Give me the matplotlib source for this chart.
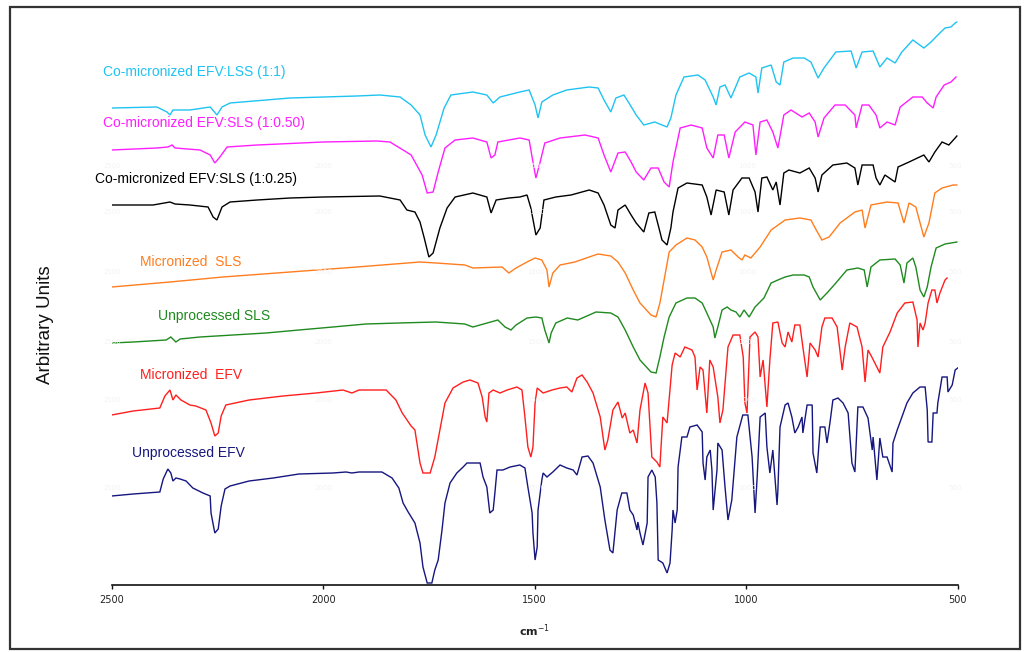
import matplotlib
matplotlib.use("Agg")
import matplotlib.pyplot as plt
from matplotlib.patches import Rectangle

# ---------------- data (wavenumber cm-1, arbitrary intensity) ----------------
unproc_efv_wn = [2500, 2449, 2386, 2378, 2367, 2360, 2355, 2348, 2338, 2324, 2308, 2284, 2267, 2265, 2256, 2248, 2241, 2232, 2220,
                 2175, 2118, 2057, 1977, 1946, 1932, 1915, 1861, 1837, 1821, 1811, 1799, 1783, 1771, 1764, 1754, 1743, 1736, 1728,
                 1719, 1712, 1700, 1684, 1669, 1660, 1629, 1622, 1613, 1606, 1598, 1594, 1589, 1575, 1558, 1535, 1523, 1516, 1506,
                 1504, 1499, 1494, 1492, 1483, 1480, 1471, 1457, 1440, 1424, 1409, 1400, 1388, 1374, 1362, 1345, 1334, 1322, 1315,
                 1305, 1294, 1282, 1275, 1267, 1258, 1256, 1251, 1244, 1234, 1232, 1223, 1215, 1211, 1208, 1197, 1187, 1180, 1175,
                 1173, 1168, 1163, 1161, 1152, 1140, 1133, 1116, 1104, 1102, 1097, 1093, 1085, 1081, 1078, 1069, 1067, 1057, 1050,
                 1043, 1034, 1022, 1008, 996, 986, 979, 974, 967, 955, 951, 944, 937, 932, 927, 925, 920, 908, 901, 892, 885, 877,
                 868, 866, 856, 844, 842, 833, 825, 814, 809, 802, 795, 783, 771, 759, 750, 743, 736, 724, 712, 702, 700, 691, 684,
                 677, 667, 655, 653, 643, 632, 620, 606, 589, 577, 572, 570, 561, 558, 549, 547, 537, 525, 523, 513, 506, 500]
unproc_efv_y = [89, 91, 93, 106, 116, 112, 104, 107, 106, 104, 97, 92, 89, 72, 52, 56, 79, 96, 99,
                104, 107, 111, 112, 113, 112, 113, 113, 107, 97, 82, 73, 62, 42, 18, 2, 2, 15, 25,
                55, 82, 102, 112, 118, 122, 122, 108, 98, 72, 75, 92, 115, 115, 118, 120, 117, 98, 72,
                52, 25, 38, 75, 105, 112, 108, 113, 120, 117, 115, 110, 128, 129, 122, 98, 65, 35, 32,
                75, 92, 92, 75, 70, 55, 63, 52, 40, 62, 108, 115, 108, 82, 25, 22, 12, 22, 55,
                75, 62, 75, 118, 148, 148, 158, 160, 153, 122, 105, 128, 135, 115, 75, 115, 142, 135, 98,
                65, 85, 148, 170, 170, 128, 72, 108, 168, 172, 138, 112, 135, 108, 80, 95, 158, 180, 182, 168, 152, 158,
                168, 152, 180, 180, 132, 112, 158, 158, 142, 162, 185, 187, 182, 172, 122, 113, 178, 178, 167, 135, 148, 105, 147,
                128, 128, 113, 142, 155, 168, 182, 192, 198, 198, 175, 143, 143, 172, 172, 182, 208, 208, 193, 200, 215, 217]

micro_efv_wn = [2500, 2449, 2386, 2374, 2362, 2355, 2348, 2336, 2315, 2301, 2277, 2265, 2256, 2248, 2241, 2230, 2175, 2095, 2017,
                1953, 1932, 1915, 1851, 1828, 1813, 1792, 1783, 1771, 1764, 1747, 1736, 1724, 1712, 1693, 1669, 1653, 1634, 1624,
                1617, 1613, 1608, 1598, 1582, 1565, 1542, 1530, 1523, 1516, 1509, 1504, 1499, 1494, 1480, 1459, 1440, 1424, 1412,
                1400, 1388, 1376, 1362, 1345, 1334, 1327, 1315, 1303, 1293, 1286, 1275, 1267, 1258, 1251, 1239, 1232, 1223, 1211,
                1204, 1197, 1187, 1175, 1168, 1156, 1145, 1128, 1121, 1116, 1109, 1102, 1093, 1086, 1078, 1067, 1062, 1055, 1043,
                1031, 1015, 1007, 1003, 998, 991, 979, 972, 967, 960, 951, 944, 937, 925, 915, 908, 901, 892, 885, 873, 866, 856,
                849, 837, 830, 821, 814, 797, 785, 773, 766, 755, 738, 726, 719, 712, 703, 691, 684, 677, 660, 643, 625, 606, 596,
                594, 589, 582, 577, 570, 561, 554, 549, 542, 530, 525]
micro_efv_y = [170, 174, 177, 189, 195, 185, 190, 185, 180, 179, 175, 162, 149, 152, 169, 180, 185, 189, 192,
               195, 192, 195, 195, 185, 172, 159, 155, 122, 112, 112, 128, 155, 182, 197, 203, 205, 202, 188,
               168, 163, 192, 195, 192, 195, 198, 195, 168, 138, 128, 138, 182, 197, 192, 195, 197, 198, 193,
               207, 210, 203, 192, 168, 135, 145, 175, 183, 167, 172, 152, 155, 142, 175, 202, 192, 128, 123,
               118, 168, 162, 220, 232, 228, 238, 235, 228, 195, 218, 215, 172, 225, 218, 188, 162, 175, 238,
               250, 250, 228, 182, 172, 248, 253, 248, 208, 225, 178, 225, 262, 263, 242, 238, 253, 243, 260, 260, 238, 208,
               242, 235, 228, 258, 267, 267, 258, 215, 238, 262, 258, 238, 203, 235, 228, 218, 212, 238, 253, 272, 282, 283, 265,
               238, 262, 255, 262, 282, 295, 295, 282, 292, 305, 307]

unproc_sls_wn = [2500, 2449, 2371, 2360, 2348, 2338, 2291, 2213, 2135, 2057, 1977, 1899, 1821, 1733, 1665, 1646, 1587, 1570,
                 1556, 1544, 1518, 1497, 1483, 1476, 1466, 1461, 1450, 1423, 1398, 1371, 1355, 1320, 1303, 1286, 1267, 1251,
                 1225, 1213, 1204, 1194, 1182, 1166, 1140, 1121, 1104, 1093, 1078, 1074, 1067, 1057, 1045, 1036, 1024, 1015,
                 1005, 993, 979, 958, 941, 925, 908, 889, 863, 851, 842, 825, 809, 788, 762, 736, 721, 714, 705, 684, 648, 636,
                 627, 620, 606, 599, 589, 580, 572, 563, 551, 530, 502]
unproc_sls_y = [242, 243, 245, 248, 243, 246, 248, 250, 252, 255, 258, 261, 262, 263, 261, 258, 265, 258,
                255, 260, 267, 268, 267, 255, 242, 252, 262, 267, 265, 270, 273, 272, 268, 255, 238, 225,
                213, 212, 228, 248, 268, 282, 287, 287, 282, 272, 258, 247, 258, 275, 278, 275, 273, 268,
                275, 268, 278, 287, 302, 305, 308, 310, 310, 308, 298, 285, 292, 302, 315, 317, 315, 298, 318, 325, 326, 320,
                302, 322, 327, 318, 295, 288, 298, 318, 337, 341, 343]

micro_sls_wn = [2500, 2362, 2237, 2078, 1920, 1771, 1733, 1665, 1646, 1577, 1561, 1544, 1518, 1499, 1483, 1471, 1466, 1457,
                1440, 1405, 1371, 1350, 1320, 1303, 1286, 1267, 1251, 1225, 1213, 1204, 1194, 1182, 1166, 1140, 1121, 1104,
                1093, 1078, 1071, 1057, 1036, 1019, 1010, 1003, 989, 967, 941, 908, 873, 847, 837, 821, 804, 778, 743, 726,
                719, 705, 667, 641, 627, 615, 599, 580, 568, 554, 537, 511, 502]
micro_sls_y = [298, 303, 308, 313, 318, 323, 322, 320, 317, 318, 312, 317, 323, 327, 325, 315, 298, 312,
               320, 323, 328, 331, 329, 323, 312, 295, 282, 270, 268, 282, 305, 333, 340, 347, 345, 338,
               328, 305, 315, 333, 335, 328, 325, 330, 327, 338, 355, 365, 367, 365, 357, 345, 348, 362, 373, 375,
               357, 380, 383, 382, 362, 382, 378, 348, 362, 392, 397, 400, 400]

comic_025_wn = [2500, 2402, 2362, 2350, 2315, 2272, 2260, 2251, 2239, 2220, 2156, 2078, 2000, 1866, 1818, 1802, 1783, 1771,
                1761, 1750, 1740, 1724, 1707, 1688, 1646, 1613, 1603, 1591, 1561, 1535, 1518, 1509, 1497, 1487, 1478, 1450,
                1414, 1371, 1350, 1336, 1320, 1310, 1303, 1286, 1272, 1260, 1242, 1230, 1216, 1208, 1199, 1187, 1178, 1173,
                1161, 1140, 1104, 1093, 1083, 1071, 1052, 1041, 1031, 1010, 993, 979, 972, 963, 951, 937, 929, 920, 911, 899,
                873, 851, 837, 830, 821, 795, 762, 743, 736, 726, 700, 693, 684, 672, 648, 641, 615, 580, 568, 554, 537, 521,
                506, 502]
comic_025_y = [380, 380, 383, 381, 380, 378, 368, 365, 378, 383, 385, 387, 388, 389, 385, 375, 373, 363,
               347, 328, 332, 357, 377, 388, 392, 388, 372, 385, 387, 388, 390, 377, 350, 357, 385, 388,
               390, 395, 392, 380, 360, 357, 375, 380, 370, 362, 353, 372, 373, 360, 345, 340, 357, 373,
               397, 402, 400, 388, 370, 395, 393, 370, 395, 407, 407, 393, 373, 407, 408, 395, 403, 380, 412, 415,
               412, 417, 407, 393, 410, 420, 422, 417, 400, 420, 420, 407, 400, 410, 403, 418, 423, 430, 423, 433, 443, 440,
               447, 449]

comic_050_wn = [2500, 2393, 2367, 2357, 2350, 2291, 2267, 2256, 2244, 2227, 2156, 2000, 1873, 1842, 1811, 1792, 1766, 1754,
                1740, 1728, 1712, 1688, 1646, 1613, 1603, 1594, 1587, 1535, 1513, 1504, 1497, 1487, 1476, 1440, 1381, 1350,
                1336, 1320, 1303, 1286, 1272, 1260, 1242, 1225, 1208, 1194, 1182, 1173, 1156, 1130, 1104, 1093, 1078, 1067,
                1052, 1041, 1026, 1003, 984, 977, 967, 951, 937, 925, 911, 894, 868, 851, 837, 830, 816, 790, 766, 743, 740,
                726, 710, 693, 684, 667, 648, 636, 606, 584, 572, 558, 551, 532, 516, 504]
comic_050_y = [435, 437, 438, 440, 437, 435, 430, 422, 428, 438, 440, 443, 444, 443, 435, 430, 410, 392,
               393, 413, 437, 445, 447, 443, 427, 430, 443, 447, 445, 423, 407, 423, 442, 447, 450, 447,
               430, 413, 432, 433, 423, 413, 405, 417, 417, 403, 398, 423, 457, 460, 457, 437, 427, 450,
               450, 427, 453, 463, 460, 430, 463, 465, 453, 437, 470, 475, 468, 472, 463, 448, 467, 480, 480, 470, 457,
               480, 480, 470, 457, 463, 460, 478, 488, 488, 482, 477, 488, 500, 503, 508]

comic_11_wn = [2500, 2393, 2369, 2362, 2355, 2315, 2267, 2251, 2239, 2220, 2078, 1920, 1866, 1818, 1792, 1771, 1759, 1745,
               1733, 1714, 1698, 1646, 1613, 1598, 1582, 1535, 1513, 1499, 1492, 1483, 1457, 1424, 1371, 1350, 1336, 1320,
               1308, 1289, 1277, 1260, 1242, 1216, 1199, 1187, 1178, 1166, 1147, 1114, 1097, 1078, 1071, 1062, 1050, 1036,
               1015, 993, 977, 972, 963, 941, 929, 920, 911, 889, 863, 847, 830, 816, 788, 752, 740, 726, 700, 684, 667, 648,
               632, 606, 580, 563, 547, 530, 516, 506, 502]
comic_11_y = [477, 478, 473, 470, 475, 475, 478, 470, 478, 482, 487, 489, 490, 488, 480, 470, 450, 438,
              450, 477, 490, 493, 490, 482, 488, 493, 495, 480, 467, 483, 490, 495, 498, 497, 485, 473,
              487, 490, 482, 470, 460, 463, 460, 458, 467, 490, 508, 510, 505, 488, 480, 498, 500, 487,
              508, 512, 508, 492, 517, 520, 503, 500, 523, 527, 527, 523, 507, 517, 533, 534, 517, 533, 534, 518, 527, 522,
              533, 545, 537, 543, 550, 557, 558, 562, 563]

series = [
    ("Co-micronized EFV:LSS (1:1)", comic_11_wn, comic_11_y, "#1fc3f2"),
    ("Co-micronized EFV:SLS (1:0.50)", comic_050_wn, comic_050_y, "#ff1eff"),
    ("Co-micronized EFV:SLS (1:0.25)", comic_025_wn, comic_025_y, "#000000"),
    ("Micronized  SLS", micro_sls_wn, micro_sls_y, "#ff7d1e"),
    ("Unprocessed SLS", unproc_sls_wn, unproc_sls_y, "#1f8a1f"),
    ("Micronized  EFV", micro_efv_wn, micro_efv_y, "#ff1e1e"),
    ("Unprocessed EFV", unproc_efv_wn, unproc_efv_y, "#16167f"),
]
x_ticks = [2500, 2000, 1500, 1000, 500]

# ---------------- figure ----------------
W, H = 1024, 652
fig = plt.figure(figsize=(W / 100, H / 100), dpi=100)
fig.patch.set_facecolor("white")

def fx(px):
    return px / W

def fy(py):
    return 1 - py / H

ax = fig.add_axes([fx(111.6), fy(585), fx(957.7) - fx(111.6), fy(15) - fy(585)])
ax.set_xlim(2500, 500)
ax.set_ylim(0, 570)
for s in ("left", "right", "top"):
    ax.spines[s].set_visible(False)
ax.spines["bottom"].set_linewidth(1.2)
ax.spines["bottom"].set_color("#111111")
ax.set_yticks([])
ax.set_xticks(x_ticks)
ax.set_xticklabels([str(t) for t in x_ticks], fontsize=7, color="#222222", family="DejaVu Sans")
ax.tick_params(axis="x", direction="out", length=3, width=1.0, pad=4, color="#111111")
ax.set_xlabel("cm$^{-1}$", fontsize=8, fontweight="bold", labelpad=13, color="#222222")
ax.patch.set_alpha(0)

# very faint ghost tick labels in the background
ghost_rows = [166, 212, 272, 342, 400, 488]
ghost_cols = [(112, "2500"), (323, "2000"), (536, "1500"), (747, "1000"), (955, "500")]
for ry in ghost_rows:
    for cx, t in ghost_cols:
        fig.text(fx(cx), fy(ry), t, fontsize=5, color="#f3f3f3", ha="center", va="center", zorder=0)

for label, wn, yv, col in series:
    ax.plot(wn, yv, color=col, lw=1.0, solid_joinstyle="miter", zorder=3)

label_pos = [(103, 72), (103, 123), (95, 179), (140, 262), (158, 316), (140, 375), (132, 453)]
for (label, wn, yv, col), (lx, ly) in zip(series, label_pos):
    fig.text(fx(lx), fy(ly), label, color=col, fontsize=10, family="Liberation Sans",
             ha="left", va="center")

fig.text(fx(45), fy(325), "Arbitrary Units", rotation=90, fontsize=13.5, family="Liberation Sans",
         ha="center", va="center", color="#111111")

fig.patches.append(Rectangle((fx(10), fy(649)), fx(1020) - fx(10), fy(7) - fy(649),
                             transform=fig.transFigure, fill=False, edgecolor="#333333", lw=1.6))

fig.savefig("out.png", dpi=100, facecolor="white")
